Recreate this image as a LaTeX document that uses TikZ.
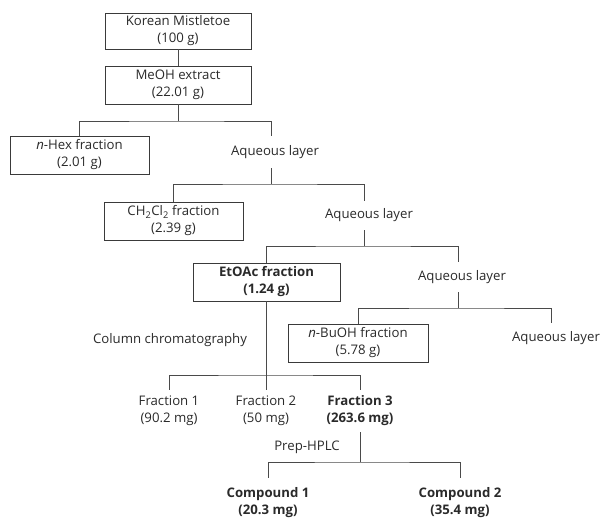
\documentclass[tikz,border=0pt]{standalone}
\usepackage{fontspec}
\setmainfont{Open Sans}
\definecolor{textc}{HTML}{2A2A2A}
\definecolor{linec}{HTML}{4A4A4A}
\definecolor{boxc}{HTML}{3A3A3A}
\begin{document}
\begin{tikzpicture}[x=1pt,y=-1pt,
  every node/.style={text=textc, font=\fontsize{13.2}{17}\selectfont, align=center, inner sep=0pt},
  box/.style={draw=boxc, line width=0.9pt, minimum height=38pt},
  lbl/.style={},
  ln/.style={draw=linec, line width=0.9pt}]
\useasboundingbox (0,0) rectangle (600,519);

% boxes
\node[box, minimum width=146pt, minimum height=36pt] (km) at (178,31) {Korean Mistletoe\\(100 g)};
\node[box, minimum width=146pt] (me) at (178,85) {MeOH extract\\(22.01 g)};
\node[box, minimum width=139pt] (hx) at (79.5,155) {\textit{n}-Hex fraction\\(2.01 g)};
\node[box, minimum width=139pt] (cc) at (173.5,221) {CH\textsubscript{2}Cl\textsubscript{2} fraction\\(2.39 g)};
\node[box, minimum width=147pt] (ea) at (266.5,282) {\textbf{EtOAc fraction}\\\textbf{(1.24 g)}};
\node[box, minimum width=140pt] (bu) at (358,343) {\textit{n}-BuOH fraction\\(5.78 g)};

% aqueous layers
\node[lbl, minimum height=32pt] (a1) at (275,152) {Aqueous layer};
\node[lbl, minimum height=29pt] (a2) at (369,215.5) {Aqueous layer};
\node[lbl, minimum height=30pt] (a3) at (462,277) {Aqueous layer};
\node[lbl, minimum height=30pt] (a4) at (556,338) {Aqueous layer};

% method labels
\node[lbl] (col) at (170,340) {Column chromatography};
\node[lbl] (hplc) at (307,447) {Prep-HPLC};

% fractions
\node[lbl, minimum height=42pt] (f1) at (169,411) {Fraction 1\\(90.2 mg)};
\node[lbl, minimum height=42pt] (f2) at (266,411) {Fraction 2\\(50 mg)};
\node[lbl, minimum height=42pt] (f3) at (360,411) {\textbf{Fraction 3}\\\textbf{(263.6 mg)}};

% compounds
\node[lbl, minimum height=49pt] (p1) at (268,502.5) {\textbf{Compound 1}\\\textbf{(20.3 mg)}};
\node[lbl, minimum height=49pt] (p2) at (460,502.5) {\textbf{Compound 2}\\\textbf{(35.4 mg)}};

% junctions
\coordinate (j0) at (178,121);
\coordinate (j1) at (271,184);
\coordinate (j2) at (364,246);
\coordinate (j3) at (458,308);
\coordinate (j4) at (266.5,375);
\coordinate (j5) at (360,462);

% connectors
\draw[ln] (km) -- (me);
\draw[ln] (me.south) -- (j0);
\draw[ln] (hx.north) |- (j0) -| ([xshift=-4pt]a1.north);
\draw[ln] ([xshift=-4pt]a1.south) -- (j1);
\draw[ln] (cc.north) |- (j1) -| ([xshift=-5pt]a2.north);
\draw[ln] ([xshift=-5pt]a2.south) -- (j2);
\draw[ln] (ea.north) |- (j2) -| ([xshift=-4pt]a3.north);
\draw[ln] ([xshift=-4pt]a3.south) -- (j3);
\draw[ln] (bu.north) |- (j3) -| ([xshift=-5pt]a4.north);
\draw[ln] (ea.south) -- (j4);
\draw[ln] (f1.north) |- (j4) -| (f3.north);
\draw[ln] (f2.north) -- (f2.north |- j4);
\draw[ln] (f3.south) -- (j5);
\draw[ln] (p1.north) |- (j5) -| (p2.north);
\end{tikzpicture}
\end{document}
